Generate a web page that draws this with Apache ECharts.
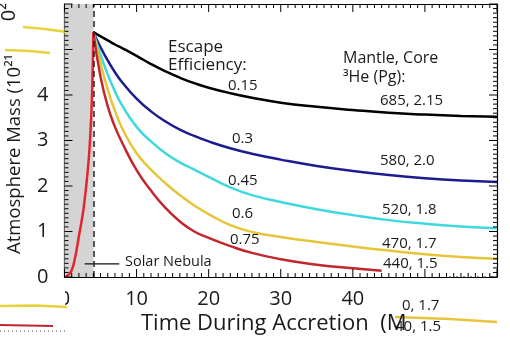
<!DOCTYPE html>
<html><head><meta charset="utf-8">
<script src="https://cdn.jsdelivr.net/npm/echarts@6/dist/echarts.min.js"></script>
<style>html,body{margin:0;padding:0;background:#fff}#c{width:510px;height:340px}</style>
</head><body><div id="c"></div>
<script>
// ---- data ----
const xTicks = [0, 10, 20, 30, 40];
const yTicks = [0, 1, 2, 3, 4];
const tRise = [0, 0.5, 1, 1.5, 2, 2.5, 2.8, 3.2, 3.5, 3.8, 4];
const riseMass = [0, 0.04, 0.15, 0.45, 0.9, 1.35, 1.7, 2.3, 2.9, 3.9, 5.38];
const tDecay = [4, 5, 6, 7, 8, 10, 12, 14, 16, 18, 20, 23, 26, 30, 35, 40, 45, 50, 55, 60];
const eff015 = [5.38, 5.29, 5.2, 5.11, 5.03, 4.86, 4.68, 4.52, 4.38, 4.26, 4.16, 4.04, 3.94, 3.83, 3.74, 3.67, 3.61, 3.57, 3.54, 3.52];
const eff030 = [5.38, 5.05, 4.76, 4.5, 4.28, 3.92, 3.64, 3.42, 3.24, 3.1, 2.98, 2.83, 2.71, 2.58, 2.44, 2.33, 2.24, 2.17, 2.12, 2.09];
const eff045 = [5.38, 4.88, 4.45, 4.08, 3.77, 3.3, 2.98, 2.72, 2.52, 2.36, 2.2, 1.97, 1.8, 1.65, 1.49, 1.36, 1.25, 1.17, 1.11, 1.07];
const eff060 = [5.38, 4.7, 4.12, 3.65, 3.27, 2.72, 2.36, 2.06, 1.8, 1.57, 1.38, 1.14, 0.99, 0.88, 0.77, 0.67, 0.58, 0.5, 0.44, 0.40];
const tRed = [4, 5, 6, 7, 8, 10, 12, 14, 16, 18, 20, 23, 26, 30, 35, 40, 44];
const eff075 = [5.38, 4.4, 3.75, 3.3, 2.95, 2.35, 1.9, 1.52, 1.22, 1.0, 0.86, 0.68, 0.53, 0.39, 0.27, 0.19, 0.14];
const nebulaT = [2.8, 7.6];
const nebulaY = [0.29, 0.29];
const nebulaEnd = 4;
const effLabels = ['0.15', '0.3', '0.45', '0.6', '0.75'];
const reservoirLabels = ['685, 2.15', '580, 2.0', '520, 1.8', '470, 1.7', '440, 1.5'];
const X_MAX = 60, Y_MAX = 6;

// ---- chart ----
const FONT = '"Open Sans", sans-serif';
const GRID = {left: 64.5, right: 13, top: 4, bottom: 63};
const W = 510, H = 340;
const zip = (xs, ys) => xs.map((x, i) => [x, ys[i]]);
const chart = echarts.init(document.getElementById('c'), null, {renderer: 'canvas', width: W, height: H});
const mkAxis = (extra) => Object.assign({
  type: 'value',
  axisLine: {show: true, onZero: false, lineStyle: {color: '#000', width: 1.2}},
  axisTick: {show: false},
  minorTick: {show: false},
  splitLine: {show: false}
}, extra);
const lineSeries = (name, xs, ys, color, z) => ({
  name, type: 'line', data: zip(xs, ys), showSymbol: false, smooth: 0.5,
  lineStyle: {color, width: 2.5}, z: z || 3, silent: true
});
const txt = (text, x, y, size, extra) => Object.assign({
  type: 'text', left: x, top: y - size * 0.68, z: 50,
  style: {text, fontSize: size, fontFamily: FONT, fill: '#1a1a1a'}
}, extra || {});

const option = {
  animation: false,
  grid: GRID,
  xAxis: [
    mkAxis({min: 0, max: X_MAX, interval: 10,
      axisLabel: {fontSize: 20, fontFamily: FONT, color: '#1a1a1a', margin: 12,
        formatter: v => xTicks.includes(v) ? String(v) : ''}}),
    mkAxis({position: 'top', min: 0, max: X_MAX, interval: 10, axisLabel: {show: false}})
  ],
  yAxis: [
    mkAxis({min: 0, max: Y_MAX, interval: 1,
      axisLabel: {fontSize: 20, fontFamily: FONT, color: '#1a1a1a', margin: 16,
        formatter: v => yTicks.includes(v) ? String(v) : ''}}),
    mkAxis({position: 'right', min: 0, max: Y_MAX, interval: 1, axisLabel: {show: false}})
  ],
  series: [
    {type: 'line', data: [], silent: true,
      markArea: {silent: true, itemStyle: {color: '#d4d4d4'}, data: [[{xAxis: 0}, {xAxis: nebulaEnd}]]},
      markLine: {silent: true, symbol: 'none', label: {show: false},
        lineStyle: {color: '#222', type: [6, 4], width: 1.5}, data: [{xAxis: nebulaEnd}]}},
    lineSeries('0.15', tDecay, eff015, '#000000'),
    lineSeries('0.3', tDecay, eff030, '#1c1c8e'),
    lineSeries('0.45', tDecay, eff045, '#3fd8dc'),
    lineSeries('0.6', tDecay, eff060, '#e6c53a'),
    lineSeries('0.75', tRed, eff075, '#c1272d'),
    lineSeries('rise', tRise, riseMass, '#e3262e', 4),
    {type: 'line', data: zip(nebulaT, nebulaY), showSymbol: false, silent: true,
      lineStyle: {color: '#111', width: 1.2}}
  ],
  graphic: [
    txt('Escape', 168, 50, 17),
    txt('Efficiency:', 168, 68, 17),
    txt(effLabels[0], 228, 88, 15),
    txt('Mantle, Core', 343, 61, 16),
    txt('\u00b3He (Pg):', 343, 80, 16),
    txt(reservoirLabels[0], 380, 103, 15),
    txt(effLabels[1], 232, 141, 15),
    txt(reservoirLabels[1], 380, 163, 15),
    txt(effLabels[2], 228, 183, 15),
    txt(reservoirLabels[2], 382, 212, 15),
    txt(effLabels[3], 232, 216, 15),
    txt(reservoirLabels[3], 382, 246, 15),
    txt(effLabels[4], 230, 242, 15),
    txt(reservoirLabels[4], 383, 266, 15),
    txt('Solar Nebula', 125, 264, 14.5),
    txt('Time During Accretion  (M', 141, 328, 22),
    {type: 'text', z: 50, x: 15, y: 154, rotation: Math.PI / 2,
      style: {text: 'Atmosphere Mass (10\u00b2\u00b9', fontSize: 18.5, fontFamily: FONT, fill: '#1a1a1a',
        textAlign: 'center', textVerticalAlign: 'middle'}},
    {type: 'rect', z: 40, shape: {x: 0, y: 284, width: 65, height: 56}, style: {fill: '#fff'}},
    {type: 'rect', z: 40, shape: {x: 449, y: 268, width: 47, height: 8.5}, style: {fill: '#fff'}},
    {type: 'line', z: 41, shape: {x1: 449, y1: 277, x2: 497, y2: 277}, style: {stroke: '#222', lineWidth: 1.2, lineDash: [2, 5]}},
    {type: 'polyline', z: 41, shape: {points: [[0, 306], [35, 305.5], [67, 307]]}, style: {stroke: '#e6d33a', lineWidth: 2.5}},
    {type: 'polyline', z: 41, shape: {points: [[0, 325], [53, 326]]}, style: {stroke: '#c1272d', lineWidth: 2}},
    {type: 'line', z: 41, shape: {x1: 0, y1: 331, x2: 66, y2: 331}, style: {stroke: '#444', lineWidth: 1, lineDash: [1, 3]}},
    {type: 'polyline', z: 41, shape: {points: [[23, 27], [45, 29], [67, 32]]}, style: {stroke: '#e6d33a', lineWidth: 2.5}},
    {type: 'polyline', z: 41, shape: {points: [[5, 50], [30, 51], [50, 53]]}, style: {stroke: '#e6d33a', lineWidth: 2.5}},
    {type: 'circle', z: 2, shape: {cx: 76, cy: 35, r: 11}, style: {fill: '#d4d4d4'}},
    {type: 'polyline', z: 41, shape: {points: [[395, 317], [450, 319], [497, 322]]}, style: {stroke: '#e6c53a', lineWidth: 2.5}},
    txt('0, 1.7', 402, 308, 15),
    txt('40, 1.5', 395, 329, 15),
    {type: 'text', z: 50, x: 9, y: 12, rotation: Math.PI / 2,
      style: {text: '0\u00b2', fontSize: 20, fontFamily: FONT, fill: '#1a1a1a', textAlign: 'center', textVerticalAlign: 'middle'}}
  ]
};
chart.setOption(option);

// ---- tick marks: positions from the chart's scales, with a grid-geometry fallback ----
const gx0 = GRID.left, gx1 = W - GRID.right, gy0 = H - GRID.bottom, gy1 = GRID.top;
const fallback = (v) => [gx0 + (gx1 - gx0) * v[0] / X_MAX, gy0 + (gy1 - gy0) * v[1] / Y_MAX];
const px = (v) => {
  let p = null;
  try { p = chart.convertToPixel({xAxisIndex: 0, yAxisIndex: 0}, v); } catch (e) { p = null; }
  if (!p || !isFinite(p[0]) || !isFinite(p[1])) p = fallback(v);
  return p;
};
const tickPaths = [];
for (let i = 0; i <= X_MAX; i++) {
  const len = i % 10 === 0 ? 8 : 4;
  const b = px([i, 0]), t = px([i, Y_MAX]);
  tickPaths.push([[b[0], b[1]], [b[0], b[1] - len]]);
  tickPaths.push([[t[0], t[1]], [t[0], t[1] + len]]);
}
for (let i = 0; i <= Y_MAX * 10; i++) {
  const len = i % 10 === 0 ? 8 : 4;
  const l = px([0, i / 10]), r = px([X_MAX, i / 10]);
  tickPaths.push([[l[0], l[1]], [l[0] + len, l[1]]]);
  tickPaths.push([[r[0], r[1]], [r[0] - len, r[1]]]);
}
const tickEls = tickPaths.map(s => ({type: 'polyline', z: 45, silent: true,
  shape: {points: s}, style: {stroke: '#000', lineWidth: 1, fill: null}}));
chart.setOption({graphic: option.graphic.concat(tickEls)});
</script></body></html>
